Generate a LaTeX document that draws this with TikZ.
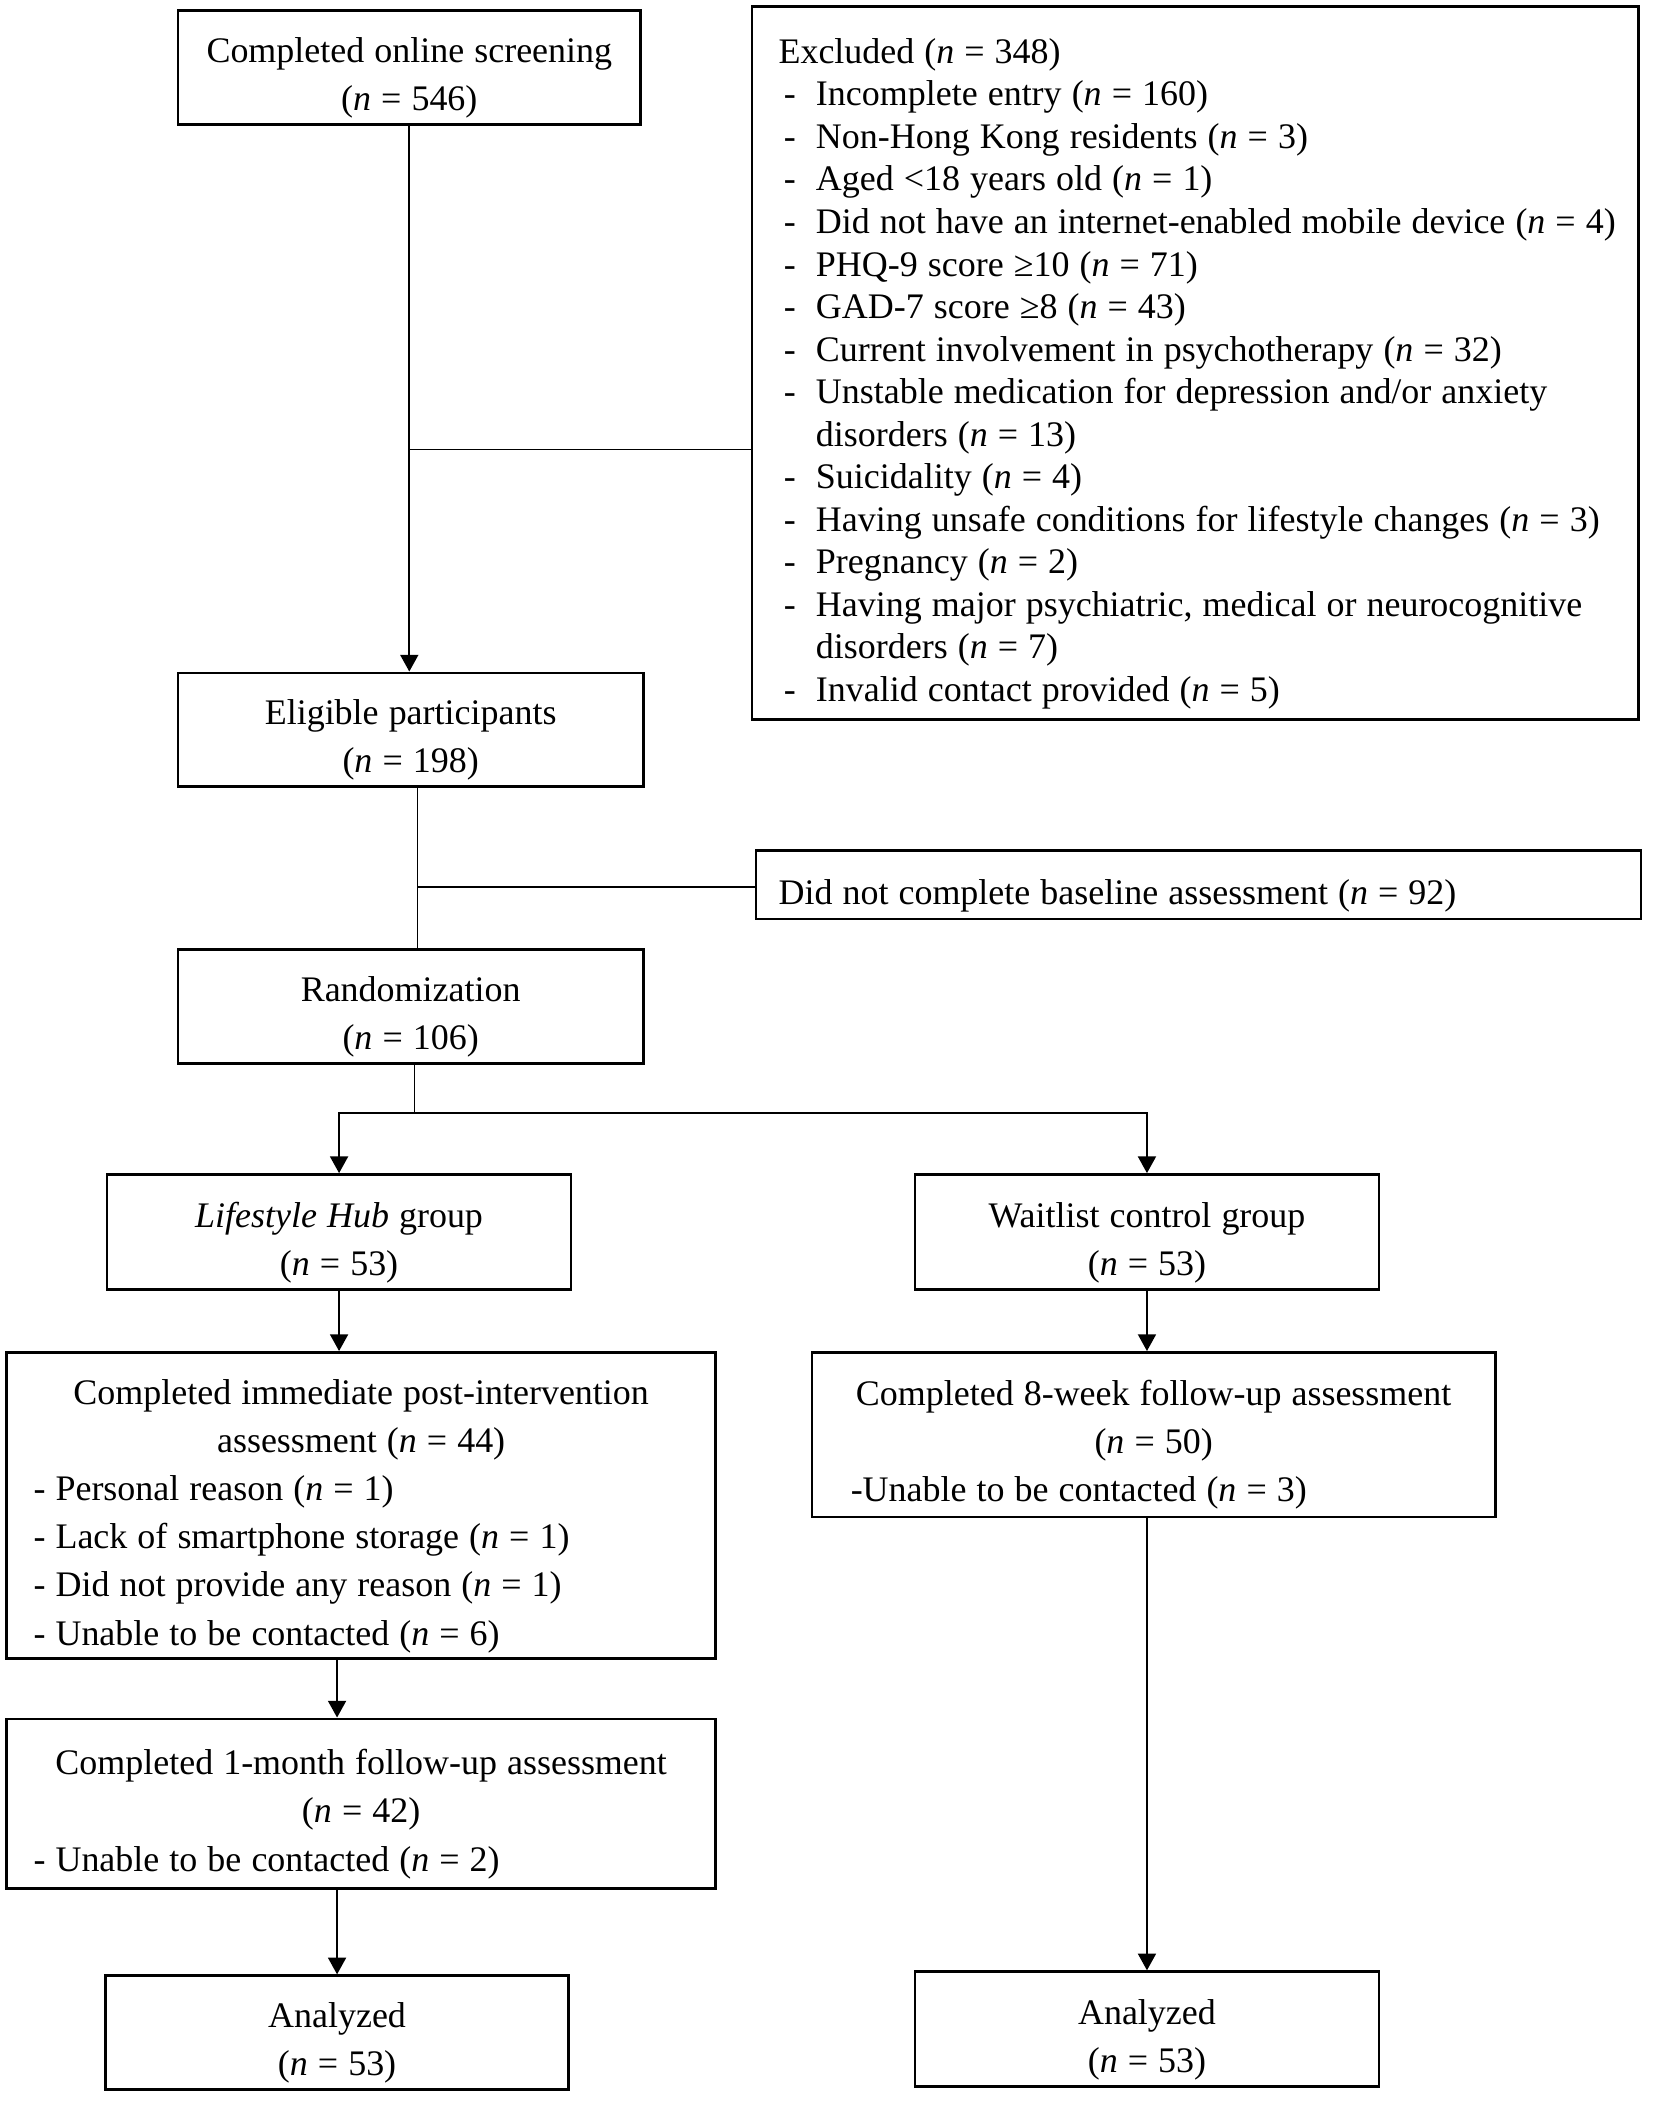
\documentclass[tikz,border=0pt]{standalone}
\usepackage{fontspec}
\setmainfont{Liberation Serif}
\usetikzlibrary{arrows.meta}

\newcommand{\nn}{\textit{n}}
\newcommand{\xitem}[1]{\mbox{\makebox[0.56cm][l]{\hspace{0.08cm}-}#1}}
\newcommand{\xcont}[1]{\mbox{\hspace{0.56cm}#1}}
\newcommand{\lft}[1]{\makebox[\linewidth][l]{#1}}

\begin{document}
\begin{tikzpicture}[x=0.02cm, y=-0.02cm,
		box/.style={draw, line width=1.1pt, inner ysep=0pt, inner xsep=0.3cm, align=center, font=\fontsize{15.3}{20.5}\selectfont,
			execute at begin node={\spaceskip=0.28em\rule{0pt}{0.69cm}}},
		line/.style={line width=0.7pt},
		arr/.style={line width=0.7pt, -{Triangle[width=0.27cm,length=0.25cm]}}]
			\useasboundingbox (0,0) rectangle (1237,1573);

			% Nodes
			\node[box, text width=6.32cm, minimum height=1.70cm] (screen) at (306,50.5) {Completed online screening\\(\nn{} = 546)};
			\node[box, align=left, inner xsep=0.4cm, text width=12.46cm, minimum height=10.66cm, font=\fontsize{15.3}{18.1}\selectfont] (excl) at (893.5,271.5) {\mbox{Excluded (\nn{} = 348)}\\
				\xitem{Incomplete entry (\nn{} = 160)}\\
				\xitem{Non-Hong Kong residents (\nn{} = 3)}\\
				\xitem{Aged <18 years old (\nn{} = 1)}\\
				\xitem{Did not have an internet-enabled mobile device (\nn{} = 4)}\\
				\xitem{PHQ-9 score ≥10 (\nn{} = 71)}\\
				\xitem{GAD-7 score ≥8 (\nn{} = 43)}\\
				\xitem{Current involvement in psychotherapy (\nn{} = 32)}\\
				\xitem{Unstable medication for depression and/or anxiety}\\
				\xcont{disorders (\nn{} = 13)}\\
				\xitem{Suicidality (\nn{} = 4)}\\
				\xitem{Having unsafe conditions for lifestyle changes (\nn{} = 3)}\\
				\xitem{Pregnancy (\nn{} = 2)}\\
				\xitem{Having major psychiatric, medical or neurocognitive}\\
				\xcont{disorders (\nn{} = 7)}\\
				\xitem{Invalid contact provided (\nn{} = 5)}};
			\node[box, text width=6.36cm, minimum height=1.70cm] (elig) at (307,545.5) {Eligible participants\\(\nn{} = 198)};
			\node[box, align=left, inner xsep=0.34cm, text width=12.56cm, minimum height=1.02cm] (base) at (896,661.5) {Did not complete baseline assessment (\nn{} = 92)};
			\node[box, text width=6.36cm, minimum height=1.70cm] (rand) at (307,752.5) {Randomization\\(\nn{} = 106)};
			\node[box, text width=6.34cm, minimum height=1.72cm] (hub) at (253.5,921) {\textit{Lifestyle Hub} group\\(\nn{} = 53)};
			\node[box, text width=6.34cm, minimum height=1.72cm] (wait) at (857.5,921) {Waitlist control group\\(\nn{} = 53)};
			\node[box, inner xsep=0.4cm, text width=9.8cm, minimum height=4.58cm] (post) at (270,1125.5) {Completed immediate post-intervention\\assessment (\nn{} = 44)\\
				\lft{- Personal reason (\nn{} = 1)}\\
				\lft{- Lack of smartphone storage (\nn{} = 1)}\\
				\lft{- Did not provide any reason (\nn{} = 1)}\\
				\lft{- Unable to be contacted (\nn{} = 6)}};
			\node[box, inner xsep=0.4cm, text width=9.42cm, minimum height=2.46cm] (wk8) at (862.5,1072.5) {Completed 8-week follow-up assessment\\(\nn{} = 50)\\
				\lft{\hspace{0.18cm}-Unable to be contacted (\nn{} = 3)}};
			\node[box, inner xsep=0.4cm, text width=9.8cm, minimum height=2.54cm] (mon1) at (270,1348.5) {Completed 1-month follow-up assessment\\(\nn{} = 42)\\
				\lft{- Unable to be contacted (\nn{} = 2)}};
			\node[box, text width=6.32cm, minimum height=1.70cm] (anaL) at (252,1519.5) {Analyzed\\(\nn{} = 53)};
			\node[box, text width=6.34cm, minimum height=1.72cm] (anaR) at (857.5,1517) {Analyzed\\(\nn{} = 53)};

			% Junctions
			\coordinate (j1) at (306,336);
			\coordinate (j2) at (312,663);
			\coordinate (j3) at (310,832);

			% Connectors
			\draw[arr] (screen.south) -- (screen.south |- elig.north);
			\draw[line] (j1) -- (j1 -| excl.west);
			\draw[line] (j2 |- elig.south) -- (j2 |- rand.north);
			\draw[line] (j2) -- (j2 -| base.west);
			\draw[line] (j3 |- rand.south) -- (j3);
			\draw[arr] (j3) -| (hub.north);
			\draw[arr] (j3) -| (wait.north);
			\draw[arr] (hub.south) -- (hub.south |- post.north);
			\draw[arr] (wait.south) -- (wait.south |- wk8.north);
			\draw[arr] (anaL.north |- post.south) -- (anaL.north |- mon1.north);
			\draw[arr] (anaL.north |- mon1.south) -- (anaL.north);
			\draw[arr] (anaR.north |- wk8.south) -- (anaR.north);

\end{tikzpicture}
\end{document}
